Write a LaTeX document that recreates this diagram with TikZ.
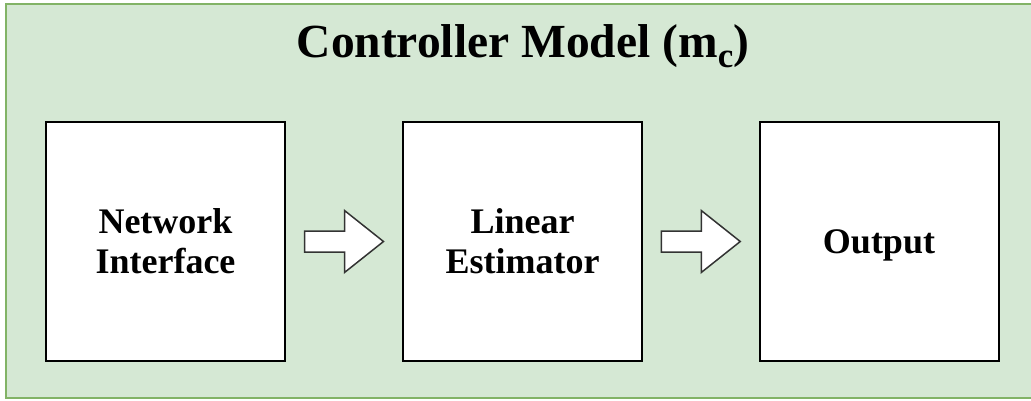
\documentclass[tikz,border=0pt]{standalone}
\usepackage{fontspec}
\setmainfont{Liberation Serif}
\usetikzlibrary{calc}
\definecolor{panelfill}{HTML}{D5E8D4}
\definecolor{panelline}{HTML}{82B366}
\definecolor{arrowline}{HTML}{333333}
\tikzset{
  panel/.style={draw=panelline, fill=panelfill, line width=2pt},
  boxtext/.style={font=\fontsize{36}{40}\selectfont\bfseries, align=center},
  stagebox/.style={draw=black, fill=white, line width=2pt, minimum width=239pt,
    minimum height=239pt, inner sep=0pt, boxtext},
  blockarrow/.style={draw=arrowline, fill=white, line width=1.5pt, line join=miter},
  heading/.style={font=\fontsize{47.5}{52}\selectfont\bfseries, anchor=base, inner sep=0pt}
}
\begin{document}
\begin{tikzpicture}[x=1pt, y=-1pt]
  \useasboundingbox (0,0) rectangle (1031,400);
  \begin{scope}
    \clip (0,0) rectangle (1031,400);
    \draw[panel] (6,4) rectangle (1040,398);
  \end{scope}
  \node[heading] (title) at (523,57) {Controller Model (m\raisebox{-0.22em}{\fontsize{35}{35}\selectfont c})};

  \node[stagebox] (net) at (165.5,241.5) {Network\\Interface};
  \node[stagebox] (est) at (522.5,241.5) {Linear\\Estimator};
  \node[stagebox] (out) at (879,241.5) {};
  \node[boxtext, anchor=base] (outtext) at ($(out.center)+(0,12)$) {Output};

  % hollow block arrows between the stages
  \foreach \a/\b/\n in {net/est/m1, est/out/m2}{
    \coordinate (\n) at ($(\a.east)!0.5!(\b.west)$);
    \draw[blockarrow] ($(\n)+(-39.5,-10.5)$) -- ++(40,0) -- ++(0,-20.5)
      -- ($(\n)+(39.5,0)$) -- ($(\n)+(0.5,31)$) -- ++(0,-20.5)
      -- ($(\n)+(-39.5,10.5)$) -- cycle;
  }
\end{tikzpicture}
\end{document}
